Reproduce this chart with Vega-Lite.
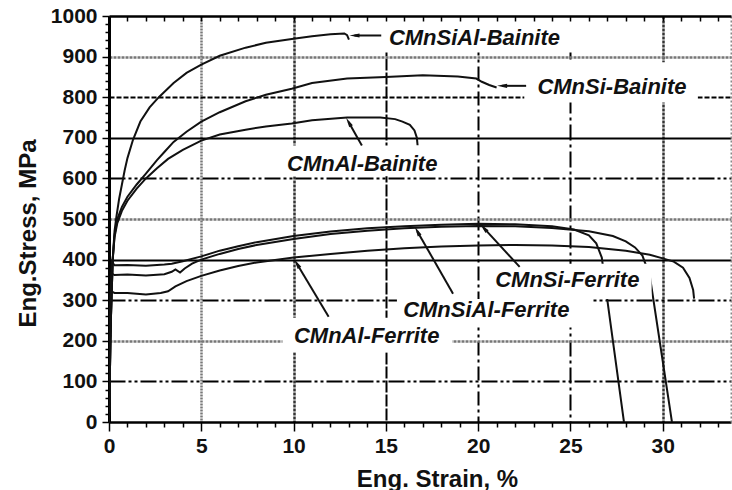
{
  "$schema": "https://vega.github.io/schema/vega-lite/v6.json",
  "width": 622,
  "height": 406,
  "autosize": {"type": "none"},
  "padding": {"left": 109, "top": 16, "right": 1, "bottom": 68},
  "background": "white",
  "config": {"view": {"stroke": null}},
  "datasets": {
    "curves": [
      {"s": "CMnSiAl-Bainite", "i": 0, "strain": 0, "stress": 0},
      {"s": "CMnSiAl-Bainite", "i": 1, "strain": 0.1, "stress": 250},
      {"s": "CMnSiAl-Bainite", "i": 2, "strain": 0.2, "stress": 400},
      {"s": "CMnSiAl-Bainite", "i": 3, "strain": 0.3, "stress": 470},
      {"s": "CMnSiAl-Bainite", "i": 4, "strain": 0.4, "stress": 505},
      {"s": "CMnSiAl-Bainite", "i": 5, "strain": 0.55, "stress": 550},
      {"s": "CMnSiAl-Bainite", "i": 6, "strain": 0.7, "stress": 585},
      {"s": "CMnSiAl-Bainite", "i": 7, "strain": 0.85, "stress": 620},
      {"s": "CMnSiAl-Bainite", "i": 8, "strain": 1.0, "stress": 650},
      {"s": "CMnSiAl-Bainite", "i": 9, "strain": 1.3, "stress": 695},
      {"s": "CMnSiAl-Bainite", "i": 10, "strain": 1.7, "stress": 740},
      {"s": "CMnSiAl-Bainite", "i": 11, "strain": 2.2, "stress": 775},
      {"s": "CMnSiAl-Bainite", "i": 12, "strain": 2.7, "stress": 800},
      {"s": "CMnSiAl-Bainite", "i": 13, "strain": 3.5, "stress": 835},
      {"s": "CMnSiAl-Bainite", "i": 14, "strain": 4.2, "stress": 860},
      {"s": "CMnSiAl-Bainite", "i": 15, "strain": 5.0, "stress": 880},
      {"s": "CMnSiAl-Bainite", "i": 16, "strain": 6.0, "stress": 902},
      {"s": "CMnSiAl-Bainite", "i": 17, "strain": 7.4, "stress": 922},
      {"s": "CMnSiAl-Bainite", "i": 18, "strain": 8.5, "stress": 934},
      {"s": "CMnSiAl-Bainite", "i": 19, "strain": 10.0, "stress": 944},
      {"s": "CMnSiAl-Bainite", "i": 20, "strain": 11.0, "stress": 950},
      {"s": "CMnSiAl-Bainite", "i": 21, "strain": 12.0, "stress": 955},
      {"s": "CMnSiAl-Bainite", "i": 22, "strain": 12.75, "stress": 957},
      {"s": "CMnSiAl-Bainite", "i": 23, "strain": 12.9, "stress": 953},
      {"s": "CMnSiAl-Bainite", "i": 24, "strain": 13.0, "stress": 942},

      {"s": "CMnSi-Bainite", "i": 0, "strain": 0, "stress": 0},
      {"s": "CMnSi-Bainite", "i": 1, "strain": 0.1, "stress": 250},
      {"s": "CMnSi-Bainite", "i": 2, "strain": 0.2, "stress": 400},
      {"s": "CMnSi-Bainite", "i": 3, "strain": 0.3, "stress": 460},
      {"s": "CMnSi-Bainite", "i": 4, "strain": 0.45, "stress": 500},
      {"s": "CMnSi-Bainite", "i": 5, "strain": 0.7, "stress": 530},
      {"s": "CMnSi-Bainite", "i": 6, "strain": 1.0, "stress": 555},
      {"s": "CMnSi-Bainite", "i": 7, "strain": 1.5, "stress": 585},
      {"s": "CMnSi-Bainite", "i": 8, "strain": 2.0, "stress": 612},
      {"s": "CMnSi-Bainite", "i": 9, "strain": 2.6, "stress": 645},
      {"s": "CMnSi-Bainite", "i": 10, "strain": 3.0, "stress": 665},
      {"s": "CMnSi-Bainite", "i": 11, "strain": 3.5, "stress": 690},
      {"s": "CMnSi-Bainite", "i": 12, "strain": 4.2, "stress": 715},
      {"s": "CMnSi-Bainite", "i": 13, "strain": 5.0, "stress": 740},
      {"s": "CMnSi-Bainite", "i": 14, "strain": 6.0, "stress": 763},
      {"s": "CMnSi-Bainite", "i": 15, "strain": 7.4, "stress": 790},
      {"s": "CMnSi-Bainite", "i": 16, "strain": 8.5, "stress": 806},
      {"s": "CMnSi-Bainite", "i": 17, "strain": 9.9, "stress": 821},
      {"s": "CMnSi-Bainite", "i": 18, "strain": 11.0, "stress": 835},
      {"s": "CMnSi-Bainite", "i": 19, "strain": 12.9, "stress": 846},
      {"s": "CMnSi-Bainite", "i": 20, "strain": 15.0, "stress": 850},
      {"s": "CMnSi-Bainite", "i": 21, "strain": 17.0, "stress": 854},
      {"s": "CMnSi-Bainite", "i": 22, "strain": 18.9, "stress": 851},
      {"s": "CMnSi-Bainite", "i": 23, "strain": 19.9, "stress": 846},
      {"s": "CMnSi-Bainite", "i": 24, "strain": 20.2, "stress": 838},
      {"s": "CMnSi-Bainite", "i": 25, "strain": 20.6, "stress": 830},
      {"s": "CMnSi-Bainite", "i": 26, "strain": 21.0, "stress": 824},

      {"s": "CMnAl-Bainite", "i": 0, "strain": 0, "stress": 0},
      {"s": "CMnAl-Bainite", "i": 1, "strain": 0.1, "stress": 250},
      {"s": "CMnAl-Bainite", "i": 2, "strain": 0.2, "stress": 400},
      {"s": "CMnAl-Bainite", "i": 3, "strain": 0.3, "stress": 455},
      {"s": "CMnAl-Bainite", "i": 4, "strain": 0.45, "stress": 490},
      {"s": "CMnAl-Bainite", "i": 5, "strain": 0.7, "stress": 520},
      {"s": "CMnAl-Bainite", "i": 6, "strain": 1.0, "stress": 545},
      {"s": "CMnAl-Bainite", "i": 7, "strain": 1.5, "stress": 575},
      {"s": "CMnAl-Bainite", "i": 8, "strain": 2.0, "stress": 600},
      {"s": "CMnAl-Bainite", "i": 9, "strain": 2.6, "stress": 625},
      {"s": "CMnAl-Bainite", "i": 10, "strain": 3.2, "stress": 648},
      {"s": "CMnAl-Bainite", "i": 11, "strain": 4.0, "stress": 670},
      {"s": "CMnAl-Bainite", "i": 12, "strain": 5.0, "stress": 693},
      {"s": "CMnAl-Bainite", "i": 13, "strain": 6.0, "stress": 708},
      {"s": "CMnAl-Bainite", "i": 14, "strain": 7.4, "stress": 720},
      {"s": "CMnAl-Bainite", "i": 15, "strain": 8.5, "stress": 728},
      {"s": "CMnAl-Bainite", "i": 16, "strain": 9.9, "stress": 735},
      {"s": "CMnAl-Bainite", "i": 17, "strain": 11.0, "stress": 743},
      {"s": "CMnAl-Bainite", "i": 18, "strain": 12.9, "stress": 750},
      {"s": "CMnAl-Bainite", "i": 19, "strain": 14.7, "stress": 750},
      {"s": "CMnAl-Bainite", "i": 20, "strain": 15.5, "stress": 746},
      {"s": "CMnAl-Bainite", "i": 21, "strain": 15.9, "stress": 740},
      {"s": "CMnAl-Bainite", "i": 22, "strain": 16.3, "stress": 732},
      {"s": "CMnAl-Bainite", "i": 23, "strain": 16.55, "stress": 718},
      {"s": "CMnAl-Bainite", "i": 24, "strain": 16.68, "stress": 700},
      {"s": "CMnAl-Bainite", "i": 25, "strain": 16.72, "stress": 681},

      {"s": "CMnSiAl-Ferrite", "i": 0, "strain": 0, "stress": 0},
      {"s": "CMnSiAl-Ferrite", "i": 1, "strain": 0.08, "stress": 300},
      {"s": "CMnSiAl-Ferrite", "i": 2, "strain": 0.15, "stress": 395},
      {"s": "CMnSiAl-Ferrite", "i": 3, "strain": 0.3, "stress": 386},
      {"s": "CMnSiAl-Ferrite", "i": 4, "strain": 1.0, "stress": 387},
      {"s": "CMnSiAl-Ferrite", "i": 5, "strain": 2.0, "stress": 385},
      {"s": "CMnSiAl-Ferrite", "i": 6, "strain": 3.0, "stress": 388},
      {"s": "CMnSiAl-Ferrite", "i": 7, "strain": 3.4, "stress": 390},
      {"s": "CMnSiAl-Ferrite", "i": 8, "strain": 4.0, "stress": 396},
      {"s": "CMnSiAl-Ferrite", "i": 9, "strain": 5.0, "stress": 408},
      {"s": "CMnSiAl-Ferrite", "i": 10, "strain": 6.0, "stress": 422},
      {"s": "CMnSiAl-Ferrite", "i": 11, "strain": 7.0, "stress": 433},
      {"s": "CMnSiAl-Ferrite", "i": 12, "strain": 8.0, "stress": 443},
      {"s": "CMnSiAl-Ferrite", "i": 13, "strain": 10.0, "stress": 458},
      {"s": "CMnSiAl-Ferrite", "i": 14, "strain": 12.0, "stress": 469},
      {"s": "CMnSiAl-Ferrite", "i": 15, "strain": 14.0, "stress": 477},
      {"s": "CMnSiAl-Ferrite", "i": 16, "strain": 16.0, "stress": 482},
      {"s": "CMnSiAl-Ferrite", "i": 17, "strain": 18.0, "stress": 486},
      {"s": "CMnSiAl-Ferrite", "i": 18, "strain": 20.0, "stress": 488},
      {"s": "CMnSiAl-Ferrite", "i": 19, "strain": 22.0, "stress": 487},
      {"s": "CMnSiAl-Ferrite", "i": 20, "strain": 24.0, "stress": 482},
      {"s": "CMnSiAl-Ferrite", "i": 21, "strain": 25.2, "stress": 474},
      {"s": "CMnSiAl-Ferrite", "i": 22, "strain": 26.0, "stress": 460},
      {"s": "CMnSiAl-Ferrite", "i": 23, "strain": 26.4, "stress": 440},
      {"s": "CMnSiAl-Ferrite", "i": 24, "strain": 26.7, "stress": 405},
      {"s": "CMnSiAl-Ferrite", "i": 25, "strain": 27.0, "stress": 300},
      {"s": "CMnSiAl-Ferrite", "i": 26, "strain": 27.9, "stress": 0},

      {"s": "CMnSi-Ferrite", "i": 0, "strain": 0, "stress": 0},
      {"s": "CMnSi-Ferrite", "i": 1, "strain": 0.08, "stress": 300},
      {"s": "CMnSi-Ferrite", "i": 2, "strain": 0.13, "stress": 366},
      {"s": "CMnSi-Ferrite", "i": 3, "strain": 0.3, "stress": 362},
      {"s": "CMnSi-Ferrite", "i": 4, "strain": 1.0, "stress": 363},
      {"s": "CMnSi-Ferrite", "i": 5, "strain": 2.0, "stress": 361},
      {"s": "CMnSi-Ferrite", "i": 6, "strain": 3.0, "stress": 364},
      {"s": "CMnSi-Ferrite", "i": 7, "strain": 3.4, "stress": 370},
      {"s": "CMnSi-Ferrite", "i": 8, "strain": 3.6, "stress": 376},
      {"s": "CMnSi-Ferrite", "i": 9, "strain": 3.85, "stress": 368},
      {"s": "CMnSi-Ferrite", "i": 10, "strain": 4.1, "stress": 378},
      {"s": "CMnSi-Ferrite", "i": 11, "strain": 4.5, "stress": 390},
      {"s": "CMnSi-Ferrite", "i": 12, "strain": 5.0, "stress": 400},
      {"s": "CMnSi-Ferrite", "i": 13, "strain": 6.0, "stress": 414},
      {"s": "CMnSi-Ferrite", "i": 14, "strain": 7.0, "stress": 426},
      {"s": "CMnSi-Ferrite", "i": 15, "strain": 8.0, "stress": 436},
      {"s": "CMnSi-Ferrite", "i": 16, "strain": 10.0, "stress": 451},
      {"s": "CMnSi-Ferrite", "i": 17, "strain": 12.0, "stress": 463},
      {"s": "CMnSi-Ferrite", "i": 18, "strain": 14.0, "stress": 471},
      {"s": "CMnSi-Ferrite", "i": 19, "strain": 16.0, "stress": 477},
      {"s": "CMnSi-Ferrite", "i": 20, "strain": 18.0, "stress": 481},
      {"s": "CMnSi-Ferrite", "i": 21, "strain": 20.0, "stress": 483},
      {"s": "CMnSi-Ferrite", "i": 22, "strain": 22.0, "stress": 482},
      {"s": "CMnSi-Ferrite", "i": 23, "strain": 24.0, "stress": 478},
      {"s": "CMnSi-Ferrite", "i": 24, "strain": 26.0, "stress": 470},
      {"s": "CMnSi-Ferrite", "i": 25, "strain": 27.3, "stress": 458},
      {"s": "CMnSi-Ferrite", "i": 26, "strain": 28.0, "stress": 445},
      {"s": "CMnSi-Ferrite", "i": 27, "strain": 28.5, "stress": 430},
      {"s": "CMnSi-Ferrite", "i": 28, "strain": 28.9, "stress": 410},
      {"s": "CMnSi-Ferrite", "i": 29, "strain": 29.3, "stress": 360},
      {"s": "CMnSi-Ferrite", "i": 30, "strain": 30.5, "stress": 0},

      {"s": "CMnAl-Ferrite", "i": 0, "strain": 0, "stress": 0},
      {"s": "CMnAl-Ferrite", "i": 1, "strain": 0.08, "stress": 300},
      {"s": "CMnAl-Ferrite", "i": 2, "strain": 0.12, "stress": 322},
      {"s": "CMnAl-Ferrite", "i": 3, "strain": 0.3, "stress": 318},
      {"s": "CMnAl-Ferrite", "i": 4, "strain": 1.0, "stress": 318},
      {"s": "CMnAl-Ferrite", "i": 5, "strain": 2.0, "stress": 314},
      {"s": "CMnAl-Ferrite", "i": 6, "strain": 2.8, "stress": 318},
      {"s": "CMnAl-Ferrite", "i": 7, "strain": 3.2, "stress": 322},
      {"s": "CMnAl-Ferrite", "i": 8, "strain": 3.6, "stress": 334},
      {"s": "CMnAl-Ferrite", "i": 9, "strain": 4.2, "stress": 347},
      {"s": "CMnAl-Ferrite", "i": 10, "strain": 5.0, "stress": 360},
      {"s": "CMnAl-Ferrite", "i": 11, "strain": 6.0, "stress": 373},
      {"s": "CMnAl-Ferrite", "i": 12, "strain": 7.0, "stress": 384},
      {"s": "CMnAl-Ferrite", "i": 13, "strain": 8.0, "stress": 393},
      {"s": "CMnAl-Ferrite", "i": 14, "strain": 10.0, "stress": 405},
      {"s": "CMnAl-Ferrite", "i": 15, "strain": 12.0, "stress": 414},
      {"s": "CMnAl-Ferrite", "i": 16, "strain": 14.0, "stress": 422},
      {"s": "CMnAl-Ferrite", "i": 17, "strain": 16.0, "stress": 428},
      {"s": "CMnAl-Ferrite", "i": 18, "strain": 18.0, "stress": 432},
      {"s": "CMnAl-Ferrite", "i": 19, "strain": 20.0, "stress": 435},
      {"s": "CMnAl-Ferrite", "i": 20, "strain": 22.0, "stress": 436},
      {"s": "CMnAl-Ferrite", "i": 21, "strain": 24.0, "stress": 435},
      {"s": "CMnAl-Ferrite", "i": 22, "strain": 26.0, "stress": 431},
      {"s": "CMnAl-Ferrite", "i": 23, "strain": 28.0, "stress": 422},
      {"s": "CMnAl-Ferrite", "i": 24, "strain": 29.3, "stress": 412},
      {"s": "CMnAl-Ferrite", "i": 25, "strain": 30.0, "stress": 403},
      {"s": "CMnAl-Ferrite", "i": 26, "strain": 30.6, "stress": 395},
      {"s": "CMnAl-Ferrite", "i": 27, "strain": 31.1, "stress": 380},
      {"s": "CMnAl-Ferrite", "i": 28, "strain": 31.45, "stress": 355},
      {"s": "CMnAl-Ferrite", "i": 29, "strain": 31.65, "stress": 325},
      {"s": "CMnAl-Ferrite", "i": 30, "strain": 31.7, "stress": 304}
    ],
    "labels": [
      {"text": "CMnSiAl-Bainite", "strain": 19.8, "stress": 945, "strain2": 14.8, "stress2": 910, "strain3": 26.6, "stress3": 1000},
      {"text": "CMnSi-Bainite", "strain": 27.25, "stress": 824, "strain2": 22.5, "stress2": 787, "strain3": 31.9, "stress3": 886},
      {"text": "CMnAl-Bainite", "strain": 13.72, "stress": 635, "strain2": 9.0, "stress2": 605, "strain3": 18.6, "stress3": 681},
      {"text": "CMnSi-Ferrite", "strain": 24.83, "stress": 349, "strain2": 20.3, "stress2": 303, "strain3": 29.4, "stress3": 390},
      {"text": "CMnSiAl-Ferrite", "strain": 20.44, "stress": 275, "strain2": 15.6, "stress2": 233, "strain3": 26.2, "stress3": 303},
      {"text": "CMnAl-Ferrite", "strain": 13.96, "stress": 211, "strain2": 9.4, "stress2": 172, "strain3": 18.6, "stress3": 257}
    ],
    "arrows": [
      {"to": "CMnSiAl-Bainite", "strain": 13.3, "stress": 952, "strain2": 14.75, "stress2": 952, "dir": 270},
      {"to": "CMnSi-Bainite", "strain": 21.3, "stress": 828, "strain2": 22.6, "stress2": 828, "dir": 270},
      {"to": "CMnAl-Bainite", "strain": 12.98, "stress": 739, "strain2": 13.7, "stress2": 681, "dir": 330},
      {"to": "CMnSi-Ferrite", "strain": 20.3, "stress": 478, "strain2": 22.25, "stress2": 382, "dir": 317},
      {"to": "CMnSiAl-Ferrite", "strain": 16.7, "stress": 470, "strain2": 18.64, "stress2": 316, "dir": 331},
      {"to": "CMnAl-Ferrite", "strain": 10.18, "stress": 390, "strain2": 11.9, "stress2": 259, "dir": 329}
    ]
  },
  "resolve": {"axis": {"x": "independent", "y": "independent"}},
  "layer": [
    {
      "data": {"name": "curves"},
      "mark": {"type": "line", "color": "#111", "strokeWidth": 2, "clip": true},
      "encoding": {
        "x": {
          "field": "strain", "type": "quantitative",
          "scale": {"domain": [0, 33.7], "nice": false, "zero": false},
          "axis": {
            "orient": "bottom",
            "values": [0,1,2,3,4,5,6,7,8,9,10,11,12,13,14,15,16,17,18,19,20,21,22,23,24,25,26,27,28,29,30,31,32,33],
            "format": "d",
            "labelExpr": "datum.value % 5 == 0 ? datum.label : ''",
            "labelFont": "Liberation Sans", "labelFontSize": 21, "labelFontWeight": "bold", "labelColor": "#111",
            "labelPadding": 4, "labelFlush": false, "labelOverlap": false,
            "title": "Eng. Strain, %",
            "titleFont": "Liberation Sans", "titleFontSize": 24, "titleFontWeight": "bold", "titleColor": "#111",
            "titleX": 328, "titleY": 64, "titleBaseline": "alphabetic", "titleAlign": "center",
            "domainColor": "#000", "domainWidth": 2.5,
            "tickColor": "#000", "tickWidth": 1.5,
            "tickSize": {"condition": {"test": "datum.value % 5 == 0", "value": 9}, "value": 5},
            "grid": true,
            "gridColor": {"condition": [
              {"test": "datum.value == 5", "value": "#777"},
              {"test": "datum.value == 10 || datum.value == 30", "value": "#333"}
            ], "value": "#000"},
            "gridWidth": {"condition": {"test": "datum.value == 5 || datum.value == 10 || datum.value == 30", "value": 2.5}, "value": 2},
            "gridDash": {"condition": [
              {"test": "datum.value == 5", "value": [2, 1]},
              {"test": "datum.value == 10 || datum.value == 30", "value": [3, 1]},
              {"test": "datum.value == 15", "value": [12, 2]},
              {"test": "datum.value == 20", "value": [14, 4, 3, 4]},
              {"test": "datum.value == 25", "value": [16, 4, 3, 4]}
            ], "value": []},
            "gridOpacity": {"condition": {"test": "datum.value % 5 == 0 && datum.value > 0", "value": 1}, "value": 0}
          }
        },
        "y": {
          "field": "stress", "type": "quantitative",
          "scale": {"domain": [0, 1000], "nice": false, "zero": false},
          "axis": {
            "orient": "left",
            "values": [0,20,40,60,80,100,120,140,160,180,200,220,240,260,280,300,320,340,360,380,400,420,440,460,480,500,520,540,560,580,600,620,640,660,680,700,720,740,760,780,800,820,840,860,880,900,920,940,960,980,1000],
            "format": "d",
            "labelExpr": "datum.value % 100 == 0 ? datum.label : ''",
            "labelFont": "Liberation Sans", "labelFontSize": 21, "labelFontWeight": "bold", "labelColor": "#111",
            "labelPadding": 5, "labelFlush": false, "labelOverlap": false,
            "title": "Eng.Stress, MPa",
            "titleFont": "Liberation Sans", "titleFontSize": 24, "titleFontWeight": "bold", "titleColor": "#111",
            "titleX": -74, "titleY": 217, "titleAngle": 270, "titleBaseline": "alphabetic", "titleAlign": "center",
            "domainColor": "#000", "domainWidth": 3,
            "tickColor": "#000", "tickWidth": 1.5,
            "tickSize": {"condition": {"test": "datum.value % 100 == 0", "value": 7}, "value": 4},
            "grid": true,
            "gridColor": {"condition": {"test": "datum.value == 200 || datum.value == 500 || datum.value == 900", "value": "#777"}, "value": "#000"},
            "gridWidth": {"condition": {"test": "datum.value == 200 || datum.value == 500 || datum.value == 900", "value": 2.5}, "value": 2},
            "gridDash": {"condition": [
              {"test": "datum.value == 100 || datum.value == 300 || datum.value == 600", "value": [16, 3, 3, 3, 3, 3]},
              {"test": "datum.value == 200 || datum.value == 500 || datum.value == 900", "value": [3, 1]},
              {"test": "datum.value == 800", "value": [5, 2]}
            ], "value": []},
            "gridOpacity": {"condition": {"test": "datum.value % 100 == 0 && datum.value > 0 && datum.value < 1000", "value": 1}, "value": 0}
          }
        },
        "detail": {"field": "s", "type": "nominal"},
        "order": {"field": "i", "type": "quantitative"}
      }
    },
    {
      "data": {"name": "labels"},
      "mark": {"type": "rect", "fill": "white", "stroke": null},
      "encoding": {
        "x": {
          "field": "strain2", "type": "quantitative",
          "axis": {
            "orient": "top", "values": [0,1,2,3,4,5,6,7,8,9,10,11,12,13,14,15,16,17,18,19,20,21,22,23,24,25,26,27,28,29,30,31,32,33],
            "labels": false, "title": null, "grid": false, "zindex": 1,
            "domainColor": "#000", "domainWidth": 2.5,
            "tickColor": "#000", "tickWidth": 1.5, "tickSize": -5
          }
        },
        "x2": {"field": "strain3"},
        "y": {
          "field": "stress2", "type": "quantitative",
          "axis": {
            "orient": "right", "labels": false, "ticks": false, "title": null, "grid": false,
            "domainColor": "#888", "domainWidth": 2, "domainDash": [2, 2]
          }
        },
        "y2": {"field": "stress3"}
      }
    },
    {
      "data": {"name": "arrows"},
      "mark": {"type": "rule", "color": "#111", "strokeWidth": 2},
      "encoding": {
        "x": {"field": "strain", "type": "quantitative", "axis": null},
        "y": {"field": "stress", "type": "quantitative", "axis": null},
        "x2": {"field": "strain2"},
        "y2": {"field": "stress2"}
      }
    },
    {
      "data": {"name": "arrows"},
      "mark": {"type": "point", "shape": "M0,-1L0.42,1L-0.42,1Z", "filled": true, "color": "#111", "opacity": 1, "size": 100},
      "encoding": {
        "x": {"field": "strain", "type": "quantitative", "axis": null},
        "y": {"field": "stress", "type": "quantitative", "axis": null},
        "angle": {"field": "dir", "type": "quantitative", "scale": null}
      }
    },
    {
      "data": {"name": "labels"},
      "mark": {"type": "text", "font": "Liberation Sans", "fontSize": 22, "fontWeight": "bold", "fontStyle": "italic", "color": "#111", "align": "center", "baseline": "middle"},
      "encoding": {
        "x": {"field": "strain", "type": "quantitative", "axis": null},
        "y": {"field": "stress", "type": "quantitative", "axis": null},
        "text": {"field": "text"}
      }
    }
  ]
}
